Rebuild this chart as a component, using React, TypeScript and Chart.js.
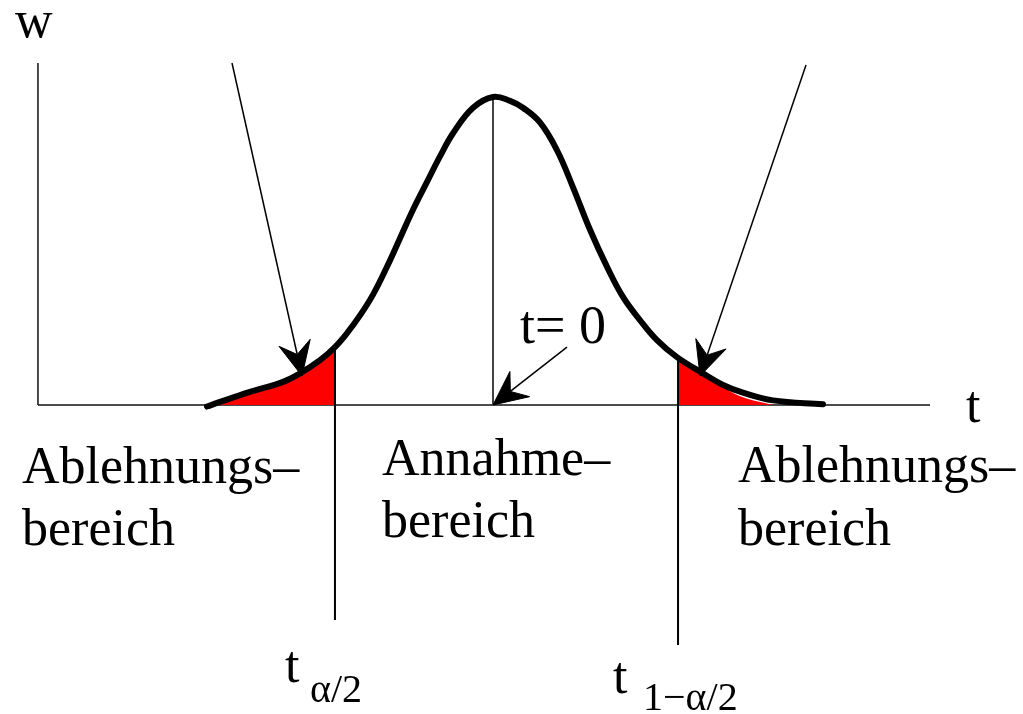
import React, { useEffect, useRef } from "react";
import Chart from "chart.js/auto";

// Density curve w(t), sampled along the bell shape
const curveT = [-3.178, -3.033, -2.7, -2.333, -2.144, -1.922, -1.756, -1.622, -1.478, -1.333, -1.178, -1.033, -0.889, -0.733, -0.589, -0.444, -0.222, 0, 0.189, 0.333, 0.522, 0.711, 0.889, 1.078, 1.267, 1.444, 1.633, 1.822, 2.044, 2.333, 2.556, 2.778, 3.111, 3.667];
const curveW = [-0.002, 0.004, 0.017, 0.03, 0.041, 0.058, 0.075, 0.093, 0.116, 0.143, 0.179, 0.216, 0.253, 0.289, 0.322, 0.352, 0.385, 0.399, 0.394, 0.385, 0.366, 0.33, 0.282, 0.227, 0.179, 0.14, 0.11, 0.084, 0.062, 0.041, 0.026, 0.016, 0.006, 0.001];

// Shaded rejection tails
const leftTailT = [-3.178, -3.033, -2.7, -2.333, -2.144, -1.922, -1.756];
const leftTailW = [0, 0.004, 0.017, 0.03, 0.041, 0.058, 0.075];
const rightTailT = [2.056, 2.333, 2.556, 2.778, 3.111];
const rightTailW = [0.061, 0.041, 0.023, 0.01, 0];

// Critical values and the centre
const tLower = -1.756;
const tUpper = 2.056;
const tCentre = 0;
const wPeak = 0.399;
const wLowerAtCrit = 0.075;
const wUpperAtCrit = 0.062;
const lowerCritEnd = -0.2785;
const upperCritEnd = -0.311;

// Coordinate axes (t and w)
const axisTStart = -5.056;
const axisTEnd = 4.856;
const axisWTop = 0.443;

// Arrows: [fromT, fromW, toT, toW]
const arrowLines = [
  [-2.9, 0.443, -2.122, 0.0376],
  [3.478, 0.4404, 2.3, 0.0376],
  [0.822, 0.075, 0, 0],
];

// Text labels: [text, t, w, size]
const labels: [string, number, number, number][] = [
  ["w", -5.311, 0.4767, 52],
  ["t", 5.256, -0.022, 52],
  ["Ablehnungs–", -5.233, -0.101, 52],
  ["bereich", -5.233, -0.181, 52],
  ["Annahme–", -1.233, -0.0907, 52],
  ["bereich", -1.233, -0.171, 52],
  ["Ablehnungs–", 2.722, -0.0997, 52],
  ["bereich", 2.722, -0.181, 52],
  ["t= 0", 0.3, 0.0803, 54],
  ["t", -2.311, -0.3588, 52],
  ["α/2", -2.033, -0.3847, 40],
  ["t", 1.333, -0.373, 52],
  ["1−α/2", 1.667, -0.395, 40],
];

const pts = (xs: number[], ys: number[]) => xs.map((x, i) => ({ x, y: ys[i] }));

const arrowPlugin = {
  id: "arrowsAndText",
  afterDatasetsDraw(chart: any) {
    const { ctx } = chart;
    const sx = chart.scales.x;
    const sy = chart.scales.y;
    ctx.save();
    arrowLines.forEach(([t0, w0, t1, w1]) => {
      const x0 = sx.getPixelForValue(t0);
      const y0 = sy.getPixelForValue(w0);
      const x1 = sx.getPixelForValue(t1);
      const y1 = sy.getPixelForValue(w1);
      const len = Math.hypot(x1 - x0, y1 - y0);
      const ux = (x1 - x0) / len;
      const uy = (y1 - y0) / len;
      const nx = -uy;
      const ny = ux;
      const L = 34, W = 16, N = 22;
      ctx.strokeStyle = "#000";
      ctx.lineWidth = 1.5;
      ctx.beginPath();
      ctx.moveTo(x0, y0);
      ctx.lineTo(x1 - ux * N, y1 - uy * N);
      ctx.stroke();
      ctx.fillStyle = "#000";
      ctx.lineJoin = "miter";
      ctx.lineWidth = 1;
      ctx.beginPath();
      ctx.moveTo(x1, y1);
      ctx.lineTo(x1 - ux * L + nx * W, y1 - uy * L + ny * W);
      ctx.lineTo(x1 - ux * N, y1 - uy * N);
      ctx.lineTo(x1 - ux * L - nx * W, y1 - uy * L - ny * W);
      ctx.closePath();
      ctx.fill();
      ctx.stroke();
    });
    ctx.fillStyle = "#000";
    ctx.textAlign = "left";
    ctx.textBaseline = "alphabetic";
    labels.forEach(([text, t, w, size]) => {
      ctx.font = `${size}px "Liberation Serif", "Times New Roman", serif`;
      ctx.fillText(text, sx.getPixelForValue(t), sy.getPixelForValue(w));
    });
    ctx.restore();
  },
};

export default function App() {
  const ref = useRef<HTMLCanvasElement | null>(null);
  useEffect(() => {
    if (!ref.current) return;
    const line = (data: any[], color: string, width: number, extra: any = {}) => ({
      type: "line",
      data,
      borderColor: color,
      borderWidth: width,
      pointRadius: 0,
      showLine: true,
      fill: false,
      clip: false,
      ...extra,
    });
    const chart = new Chart(ref.current, {
      type: "scatter",
      data: {
        datasets: [
          line(pts(curveT, curveW), "#000", 6, { tension: 0.4, borderCapStyle: "round", borderJoinStyle: "round" }),
          line(pts([tLower, tLower], [wLowerAtCrit, lowerCritEnd]), "#000", 2),
          line(pts([tUpper, tUpper], [wUpperAtCrit, upperCritEnd]), "#000", 2),
          line(pts(leftTailT, leftTailW), "rgba(0,0,0,0)", 0, { fill: "origin", backgroundColor: "#ff0000", tension: 0.4 }),
          line(pts(rightTailT, rightTailW), "rgba(0,0,0,0)", 0, { fill: "origin", backgroundColor: "#ff0000", tension: 0.4 }),
          line(pts([tCentre, tCentre], [0, wPeak]), "#444", 2),
          line(pts([axisTStart, axisTEnd], [0, 0]), "#111", 1.5),
          line(pts([axisTStart, axisTStart], [0, axisWTop]), "#111", 1.5),
        ] as any,
      },
      options: {
        animation: false,
        responsive: false,
        maintainAspectRatio: false,
        devicePixelRatio: 1,
        layout: { padding: 0 },
        plugins: { legend: { display: false }, tooltip: { enabled: false }, title: { display: false } },
        events: [],
        scales: {
          x: { type: "linear", display: false, min: -5.4778, max: 5.8889 },
          y: { type: "linear", display: false, min: -0.40026, max: 0.52461 },
        },
      },
      plugins: [arrowPlugin],
    });
    return () => chart.destroy();
  }, []);
  return (
    <div style={{ position: "absolute", left: 0, top: 0, width: 1023, height: 714, background: "#fff" }}>
      <canvas ref={ref} width={1023} height={714} style={{ display: "block", width: 1023, height: 714 }} />
    </div>
  );
}
